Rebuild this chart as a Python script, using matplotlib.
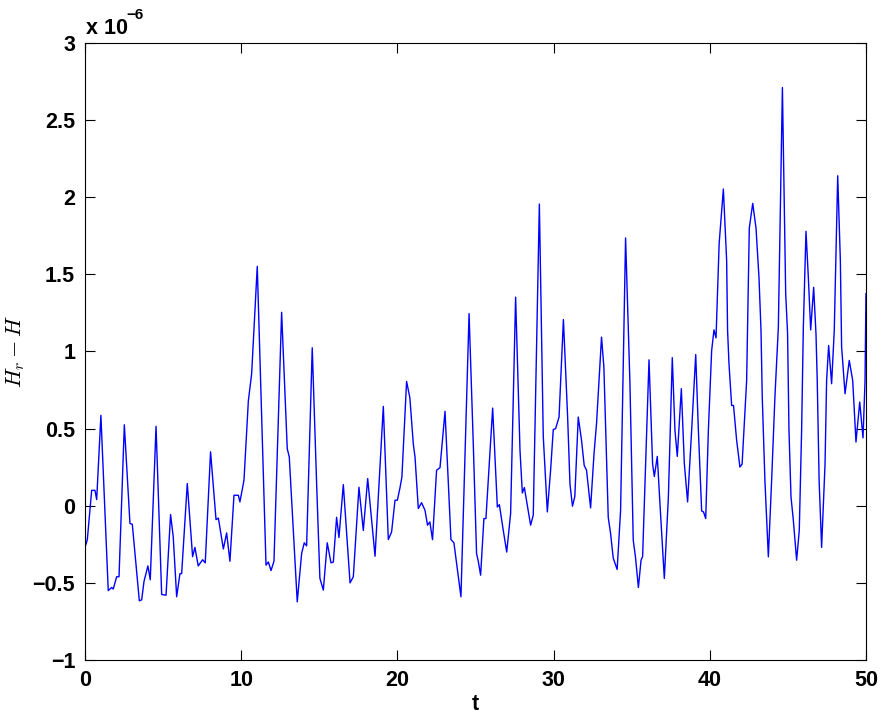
import numpy as np
import matplotlib
matplotlib.use('Agg')
import matplotlib.pyplot as plt

# Energy error H_r - H vs time (values in units of 1e-6)
t = [0.0, 0.15, 0.43, 0.64, 0.75, 1.02, 1.49, 1.71, 1.81, 2.03, 2.18, 2.52, 2.88, 3.03,
     3.48, 3.63, 3.78, 4.03, 4.18, 4.55, 4.91, 5.19, 5.48, 5.65, 5.87, 6.08, 6.19, 6.55,
     6.89, 7.04, 7.25, 7.53, 7.70, 8.04, 8.39, 8.54, 8.86, 9.07, 9.28, 9.54, 9.82, 9.92,
     10.18, 10.46, 10.67, 11.03, 11.31, 11.59, 11.74, 11.91, 12.10, 12.59, 12.80, 12.95,
     13.08, 13.59, 13.87, 14.04, 14.19, 14.55, 14.83, 15.04, 15.26, 15.51, 15.75, 15.90,
     16.11, 16.26, 16.54, 16.97, 17.18, 17.54, 17.82, 18.10, 18.57, 19.10, 19.42, 19.63,
     19.85, 20.00, 20.17, 20.29, 20.59, 20.80, 21.02, 21.13, 21.34, 21.55, 21.77, 21.93,
     22.08, 22.25, 22.51, 22.73, 23.05, 23.43, 23.62, 24.07, 24.59, 24.86, 25.07, 25.18,
     25.33, 25.54, 25.67, 26.10, 26.40, 26.53, 26.78, 27.00, 27.25, 27.57, 27.85, 28.00,
     28.13, 28.53, 28.70, 29.09, 29.34, 29.60, 29.81, 29.98, 30.13, 30.35, 30.63, 30.90,
     31.05, 31.21, 31.36, 31.58, 31.79, 31.96, 32.11, 32.37, 32.59, 32.75, 33.07, 33.22,
     33.50, 33.65, 33.82, 34.07, 34.29, 34.61, 34.89, 35.10, 35.24, 35.43, 35.60, 35.70,
     36.11, 36.34, 36.45, 36.64, 36.79, 37.09, 37.35, 37.60, 37.77, 37.92, 38.18, 38.37,
     38.58, 38.84, 39.10, 39.27, 39.48, 39.60, 39.74, 39.91, 40.12, 40.27, 40.40, 40.60,
     40.87, 41.08, 41.14, 41.23, 41.40, 41.52, 41.72, 41.93, 42.07, 42.36, 42.53, 42.75,
     42.96, 43.15, 43.28, 43.36, 43.53, 43.75, 43.96, 44.17, 44.39, 44.65, 44.86, 44.98,
     45.07, 45.20, 45.35, 45.56, 45.73, 45.88, 45.99, 46.16, 46.31, 46.46, 46.65, 46.80,
     46.88, 47.00, 47.16, 47.38, 47.48, 47.61, 47.80, 47.97, 48.19, 48.36, 48.44, 48.66,
     48.93, 49.15, 49.36, 49.60, 49.81, 49.94, 50.00]
dH = [-0.27, -0.22, 0.10, 0.10, 0.04, 0.586, -0.55, -0.53, -0.54, -0.46, -0.46, 0.525, -0.115, -0.12,
      -0.616, -0.61, -0.49, -0.39, -0.48, 0.515, -0.575, -0.58, -0.057, -0.20, -0.59, -0.44, -0.44, 0.144,
      -0.33, -0.27, -0.39, -0.35, -0.37, 0.35, -0.09, -0.08, -0.28, -0.176, -0.36, 0.068, 0.068, 0.025,
      0.165, 0.68, 0.855, 1.552, 0.575, -0.385, -0.364, -0.42, -0.36, 1.254, 0.728, 0.37,
      0.316, -0.623, -0.31, -0.24, -0.26, 1.024, 0.144, -0.47, -0.547, -0.24, -0.37, -0.365,
      -0.075, -0.206, 0.137, -0.50, -0.46, 0.12, -0.16, 0.176, -0.327, 0.644, -0.219, -0.17,
      0.036, 0.036, 0.118, 0.186, 0.806, 0.70, 0.40, 0.316, -0.018, 0.02, -0.03, -0.126,
      -0.105, -0.22, 0.23, 0.247, 0.612, -0.219, -0.24, -0.59, 1.246, 0.40, -0.31, -0.36,
      -0.45, -0.083, -0.083, 0.633, -0.008, 0.007, -0.16, -0.30, -0.05, 1.352, 0.36, 0.083,
      0.118, -0.126, -0.06, 1.956, 0.45, -0.04, 0.23, 0.494, 0.50, 0.575, 1.207, 0.575,
      0.14, -0.003, 0.06, 0.575, 0.424, 0.262, 0.23, -0.014, 0.338, 0.532, 1.093, 0.90,
      -0.075, -0.18, -0.34, -0.413, -0.03, 1.736, 0.79, -0.223, -0.33, -0.53, -0.353, -0.33,
      0.946, 0.27, 0.19, 0.32, 0.05, -0.471, 0.057, 0.96, 0.49, 0.32, 0.759, 0.275,
      0.025, 0.49, 0.98, 0.49, -0.034, -0.04, -0.083, 0.49, 1.006, 1.14, 1.088, 1.70,
      2.053, 1.589, 1.136, 0.92, 0.65, 0.65, 0.424, 0.251, 0.27, 0.812, 1.80, 1.96,
      1.80, 1.48, 1.136, 0.704, 0.165, -0.331, 0.165, 0.704, 1.157, 2.711, 1.374, 1.12,
      0.49, 0.057, -0.094, -0.353, -0.159, 0.49, 1.157, 1.779, 1.48, 1.14, 1.416, 1.114,
      0.812, 0.165, -0.27, 0.273, 0.812, 1.039, 0.791, 1.136, 2.139, 1.589, 1.03, 0.726,
      0.942, 0.812, 0.413, 0.672, 0.44, 0.81, 1.375]

xticks = [0, 10, 20, 30, 40, 50]
yticks = [-1, -0.5, 0, 0.5, 1, 1.5, 2, 2.5, 3]
ytick_labels = ['\u22121', '\u22120.5', '0', '0.5', '1', '1.5', '2', '2.5', '3']

plt.rcParams['font.family'] = ['Liberation Sans', 'DejaVu Sans']
plt.rcParams['mathtext.fontset'] = 'cm'

fig = plt.figure(figsize=(8.86, 7.23), dpi=100)
ax = fig.add_axes([0.0959, 0.0871, 0.8815, 0.8535])

ax.plot(t, dH, color=(0, 0, 1), lw=1.0)

ax.set_xlim(0, 50)
ax.set_ylim(-1, 3)
ax.set_xticks(xticks)
ax.set_yticks(yticks)
ax.set_yticklabels(ytick_labels)

# matlab-ish box with inward ticks on every side
ax.tick_params(direction='in', length=7, width=0.8, top=True, right=True,
               labelsize=15.5, pad=7)
for lab in ax.get_xticklabels() + ax.get_yticklabels():
    lab.set_fontweight('bold')
for sp in ax.spines.values():
    sp.set_linewidth(0.8)

ax.set_xlabel('t', fontsize=15.5, fontweight='bold', labelpad=2)
ax.set_ylabel('$H_r - H$', fontsize=16, labelpad=4)

# exponent label at the top-left corner, drawn as "x 10" + superscript
ax.annotate('x 10', xy=(0, 1), xycoords='axes fraction', xytext=(1, 3),
            textcoords='offset points', fontsize=15.5, fontweight='bold',
            ha='left', va='bottom')
ax.annotate('\u22126', xy=(0, 1), xycoords='axes fraction', xytext=(30, 15),
            textcoords='offset points', fontsize=11, fontweight='bold',
            ha='left', va='bottom')

fig.savefig('out.png', dpi=100)
plt.close()
